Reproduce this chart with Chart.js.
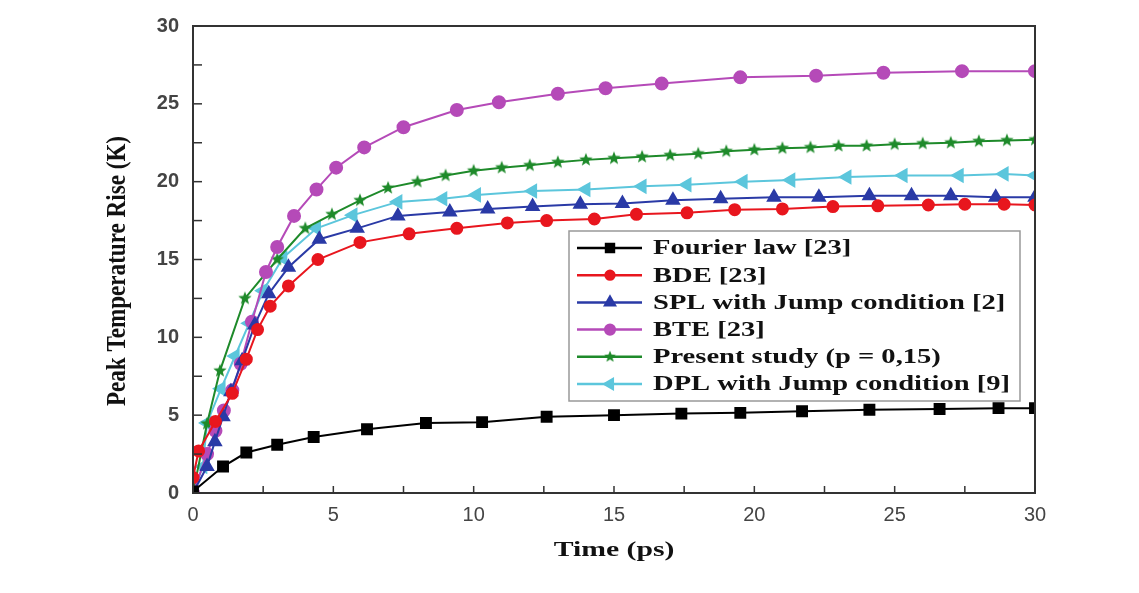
<!DOCTYPE html>
<html>
<head>
<meta charset="utf-8">
<script src="https://cdn.jsdelivr.net/npm/chart.js@4.4.1/dist/chart.umd.min.js"></script>
<style>
  html, body { margin: 0; padding: 0; background: #fff; }
  #wrap { width: 1139px; height: 593px; position: relative; }
</style>
</head>
<body>
<div id="wrap"><canvas id="chart" width="1139" height="593"></canvas></div>
<script>
// values (time in ps, temperature rise in K)
const fourierTime = [0, 1.07, 1.9, 3.0, 4.3, 6.2, 8.3, 10.3, 12.6, 15.0, 17.4, 19.5, 21.7, 24.1, 26.6, 28.7, 30];
const fourierTemp = [0.1, 1.7, 2.6, 3.1, 3.6, 4.1, 4.5, 4.55, 4.9, 5.0, 5.1, 5.15, 5.25, 5.35, 5.4, 5.45, 5.45];

const bdeTime = [0, 0.2, 0.8, 1.4, 1.9, 2.3, 2.75, 3.4, 4.45, 5.95, 7.7, 9.4, 11.2, 12.6, 14.3, 15.8, 17.6, 19.3, 21.0, 22.8, 24.4, 26.2, 27.5, 28.9, 30];
const bdeTemp = [1.0, 2.7, 4.6, 6.4, 8.6, 10.5, 12.0, 13.3, 15.0, 16.1, 16.65, 17.0, 17.35, 17.5, 17.6, 17.9, 18.0, 18.2, 18.25, 18.4, 18.45, 18.5, 18.55, 18.55, 18.5];

const splTime = [0, 0.5, 0.78, 1.07, 1.35, 1.75, 2.2, 2.7, 3.4, 4.5, 5.85, 7.3, 9.15, 10.5, 12.1, 13.8, 15.3, 17.1, 18.8, 20.7, 22.3, 24.1, 25.6, 27.0, 28.6, 30];
const splTemp = [0, 1.7, 3.3, 4.9, 6.5, 8.5, 10.8, 12.8, 14.5, 16.3, 17.0, 17.8, 18.05, 18.25, 18.4, 18.55, 18.6, 18.8, 18.9, 19.0, 19.0, 19.1, 19.1, 19.1, 19.0, 19.0];

const bteTime = [0, 0.5, 0.8, 1.1, 1.4, 1.7, 2.1, 2.6, 3.0, 3.6, 4.4, 5.1, 6.1, 7.5, 9.4, 10.9, 13.0, 14.7, 16.7, 19.5, 22.2, 24.6, 27.4, 30];
const bteTemp = [0, 2.5, 4.0, 5.3, 6.6, 8.3, 11.0, 14.2, 15.8, 17.8, 19.5, 20.9, 22.2, 23.5, 24.6, 25.1, 25.65, 26.0, 26.3, 26.7, 26.8, 27.0, 27.1, 27.1];

const presentTime = [0, 0.5, 0.96, 1.85, 3.0, 4.0, 4.95, 5.95, 6.95, 8.0, 9.0, 10.0, 11.0, 12.0, 13.0, 14.0, 15.0, 16.0, 17.0, 18.0, 19.0, 20.0, 21.0, 22.0, 23.0, 24.0, 25.0, 26.0, 27.0, 28.0, 29.0, 30.0];
const presentTemp = [0, 4.45, 7.85, 12.5, 15.0, 17.0, 17.9, 18.8, 19.6, 20.0, 20.4, 20.7, 20.9, 21.05, 21.25, 21.4, 21.5, 21.6, 21.7, 21.8, 21.95, 22.05, 22.15, 22.2, 22.3, 22.3, 22.4, 22.45, 22.5, 22.6, 22.65, 22.7];

const dplTime = [0, 0.35, 0.5, 1.0, 1.5, 2.0, 2.5, 3.2, 4.4, 5.7, 7.3, 8.9, 10.1, 12.1, 14.0, 16.0, 17.6, 19.6, 21.3, 23.3, 25.3, 27.3, 28.9, 30];
const dplTemp = [0, 1.7, 4.5, 6.7, 8.8, 10.9, 13.0, 15.1, 17.0, 17.85, 18.7, 18.9, 19.15, 19.4, 19.5, 19.7, 19.8, 20.0, 20.1, 20.3, 20.4, 20.4, 20.5, 20.4];

const seriesLabels = ['Fourier law [23]', 'BDE [23]', 'SPL with Jump condition [2]', 'BTE [23]', 'Present study (p = 0,15)', 'DPL with Jump condition [9]'];
const xTitle = 'Time (ps)';
const yTitle = 'Peak Temperature Rise (K)';

function pts(xs, ys) {
    return xs.map((x, i) => ({ x: x, y: ys[i] }));
}

// filled five-point star for the "present study" series
function makeStar(color, r) {
    const c = document.createElement('canvas');
    c.width = c.height = r * 2 + 2;
    const g = c.getContext('2d');
    g.fillStyle = color;
    g.beginPath();
    for (let i = 0; i < 10; i++) {
        const rad = i % 2 === 0 ? r : r * 0.42;
        const a = -Math.PI / 2 + i * Math.PI / 5;
        const px = r + 1 + rad * Math.cos(a);
        const py = r + 1 + rad * Math.sin(a);
        if (i === 0) g.moveTo(px, py); else g.lineTo(px, py);
    }
    g.closePath();
    g.fill();
    return c;
}
const starImg = makeStar('#1e8a2a', 7);

function series(label, data, color, style, radius, rot) {
    return {
        label: label,
        data: data,
        borderColor: color,
        backgroundColor: color,
        pointBackgroundColor: color,
        pointBorderColor: color,
        pointStyle: style,
        pointRadius: radius,
        pointRotation: rot || 0,
        borderWidth: 2,
        tension: 0
    };
}

const datasets = [
    series(seriesLabels[0], pts(fourierTime, fourierTemp), '#000000', 'rect', 7),
    series(seriesLabels[1], pts(bdeTime, bdeTemp), '#e8161e', 'circle', 5.5),
    series(seriesLabels[2], pts(splTime, splTemp), '#2a3aa6', 'triangle', 7),
    series(seriesLabels[3], pts(bteTime, bteTemp), '#b54ab8', 'circle', 6),
    series(seriesLabels[4], pts(presentTime, presentTemp), '#1e8a2a', starImg, 7),
    series(seriesLabels[5], pts(dplTime, dplTemp), '#5cc6dc', 'triangle', 7, -90)
];

// frame, inward ticks, legend box and axis titles
const decor = {
    id: 'decor',
    afterDatasetsDraw(chart) {
        const ctx = chart.ctx;
        const a = chart.chartArea;
        const xs = chart.scales.x, ys = chart.scales.y;
        ctx.save();
        ctx.strokeStyle = '#333';
        ctx.lineWidth = 2;
        ctx.strokeRect(a.left, a.top, a.right - a.left, a.bottom - a.top);
        ctx.lineWidth = 1.5;
        for (let v = 0; v <= 30; v += 2.5) {
            const px = xs.getPixelForValue(v);
            ctx.beginPath(); ctx.moveTo(px, a.bottom); ctx.lineTo(px, a.bottom - 7); ctx.stroke();
            const py = ys.getPixelForValue(v);
            ctx.beginPath(); ctx.moveTo(a.left, py); ctx.lineTo(a.left + 9, py); ctx.stroke();
        }

        // legend
        const bx = 569, by = 231, bw = 451, bh = 170, rowH = 27.2;
        ctx.fillStyle = '#fff';
        ctx.fillRect(bx, by, bw, bh);
        ctx.strokeStyle = '#999';
        ctx.lineWidth = 1.5;
        ctx.strokeRect(bx, by, bw, bh);
        chart.data.datasets.forEach((ds, i) => {
            const cy = by + 17 + i * rowH;
            ctx.strokeStyle = ds.borderColor;
            ctx.lineWidth = 2.5;
            ctx.beginPath(); ctx.moveTo(bx + 8, cy); ctx.lineTo(bx + 73, cy); ctx.stroke();
            if (ds.pointStyle instanceof HTMLCanvasElement) {
                ctx.drawImage(ds.pointStyle, bx + 41 - 7, cy - 7, 14, 14);
            } else {
                Chart.helpers.drawPoint(ctx, {
                    pointStyle: ds.pointStyle, rotation: ds.pointRotation,
                    radius: ds.pointRadius * 0.8, borderWidth: 1
                }, bx + 41, cy);
                ctx.fillStyle = ds.pointBackgroundColor;
                ctx.fill();
            }
            ctx.save();
            ctx.translate(bx + 84, cy);
            ctx.scale(1.36, 1);
            ctx.fillStyle = '#111';
            ctx.font = 'bold 21px "Liberation Serif", "Times New Roman", serif';
            ctx.textBaseline = 'middle';
            ctx.fillText(ds.label, 0, 1);
            ctx.restore();
        });

        // axis titles
        ctx.fillStyle = '#111';
        ctx.font = 'bold 22px "Liberation Serif", "Times New Roman", serif';
        ctx.textAlign = 'center';
        ctx.textBaseline = 'middle';
        ctx.save();
        ctx.translate((a.left + a.right) / 2, 550);
        ctx.scale(1.35, 1);
        ctx.fillText(xTitle, 0, 0);
        ctx.restore();
        ctx.save();
        ctx.translate(118, 271);
        ctx.rotate(-Math.PI / 2);
        ctx.scale(1.05, 1.2);
        ctx.fillText(yTitle, 0, 0);
        ctx.restore();
        ctx.restore();
    }
};

new Chart(document.getElementById('chart').getContext('2d'), {
    type: 'line',
    data: { datasets: datasets },
    options: {
        responsive: false,
        animation: false,
        layout: { padding: { top: 22, right: 104, left: 0, bottom: 0 } },
        plugins: { legend: { display: false }, tooltip: { enabled: false } },
        scales: {
            x: {
                type: 'linear', min: 0, max: 30,
                ticks: { stepSize: 5, color: '#444', padding: 10, font: { family: 'Liberation Sans, Arial', size: 20 } },
                grid: { display: false, drawTicks: false },
                border: { display: false },
                afterFit(s) { s.height = 100; }
            },
            y: {
                type: 'linear', min: 0, max: 30,
                ticks: { stepSize: 5, color: '#444', padding: 14, font: { family: 'Liberation Sans, Arial', size: 20, weight: 'bold' } },
                grid: { display: false, drawTicks: false },
                border: { display: false },
                afterFit(s) { s.width = 193; }
            }
        }
    },
    plugins: [decor]
});
</script>
</body>
</html>
